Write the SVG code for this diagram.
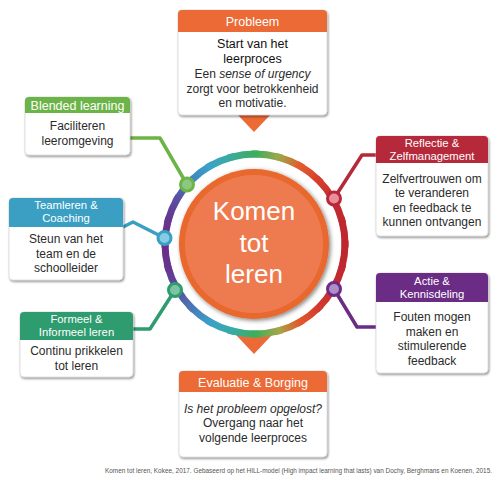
<svg xmlns="http://www.w3.org/2000/svg" width="500" height="500" viewBox="0 0 500 500">
<style>
.hdr{font-family:"Liberation Sans",Arial,sans-serif;font-size:12.5px;fill:#fff;text-anchor:middle}
.hdr2{font-family:"Liberation Sans",Arial,sans-serif;font-size:11.3px;fill:#fff;text-anchor:middle}
.txt{font-family:"Liberation Sans",Arial,sans-serif;font-size:12px;fill:#2b2b2b;text-anchor:middle}
.box{fill:#fff;stroke:#cfcfcf;stroke-width:.6;filter:url(#sh)}
.conn{fill:none;stroke-width:3.5;stroke-linejoin:round}
.seg{fill:none;stroke-width:7;stroke-linecap:square}
.node{stroke-width:3}
.big{font-family:"Liberation Sans",Arial,sans-serif;font-size:26px;fill:#fff;text-anchor:middle}
</style>
<defs>
<filter id="sh" x="-10%" y="-10%" width="130%" height="130%"><feDropShadow dx="1" dy="1.5" stdDeviation="1.2" flood-color="#000" flood-opacity="0.45"/></filter>
<filter id="csh" x="-20%" y="-20%" width="140%" height="140%"><feDropShadow dx="1.5" dy="1.5" stdDeviation="2" flood-color="#000" flood-opacity="0.5"/></filter>
<linearGradient id="g0" gradientUnits="userSpaceOnUse" x1="255" y1="154" x2="278.29" y2="157.07"><stop offset="0" stop-color="#3dae5b"/><stop offset="1" stop-color="#9aa84a"/></linearGradient>
<linearGradient id="g1" gradientUnits="userSpaceOnUse" x1="278.29" y1="157.07" x2="300" y2="166.06"><stop offset="0" stop-color="#9aa84a"/><stop offset="1" stop-color="#e25c2c"/></linearGradient>
<linearGradient id="g2" gradientUnits="userSpaceOnUse" x1="300" y1="166.06" x2="318.64" y2="180.36"><stop offset="0" stop-color="#e25c2c"/><stop offset="1" stop-color="#d63e2e"/></linearGradient>
<linearGradient id="g3" gradientUnits="userSpaceOnUse" x1="318.64" y1="180.36" x2="332.94" y2="199"><stop offset="0" stop-color="#d63e2e"/><stop offset="1" stop-color="#c42c30"/></linearGradient>
<linearGradient id="g4" gradientUnits="userSpaceOnUse" x1="332.94" y1="199" x2="341.93" y2="220.71"><stop offset="0" stop-color="#c42c30"/><stop offset="1" stop-color="#c0282f"/></linearGradient>
<linearGradient id="g5" gradientUnits="userSpaceOnUse" x1="341.93" y1="220.71" x2="345" y2="244"><stop offset="0" stop-color="#c0282f"/><stop offset="1" stop-color="#bf272f"/></linearGradient>
<linearGradient id="g6" gradientUnits="userSpaceOnUse" x1="345" y1="244" x2="341.93" y2="267.29"><stop offset="0" stop-color="#bf272f"/><stop offset="1" stop-color="#c0282f"/></linearGradient>
<linearGradient id="g7" gradientUnits="userSpaceOnUse" x1="341.93" y1="267.29" x2="332.94" y2="289"><stop offset="0" stop-color="#c0282f"/><stop offset="1" stop-color="#c32b2f"/></linearGradient>
<linearGradient id="g8" gradientUnits="userSpaceOnUse" x1="332.94" y1="289" x2="318.64" y2="307.64"><stop offset="0" stop-color="#c32b2f"/><stop offset="1" stop-color="#d23a2d"/></linearGradient>
<linearGradient id="g9" gradientUnits="userSpaceOnUse" x1="318.64" y1="307.64" x2="300" y2="321.94"><stop offset="0" stop-color="#d23a2d"/><stop offset="1" stop-color="#e2562b"/></linearGradient>
<linearGradient id="g10" gradientUnits="userSpaceOnUse" x1="300" y1="321.94" x2="278.29" y2="330.93"><stop offset="0" stop-color="#e2562b"/><stop offset="1" stop-color="#a5a548"/></linearGradient>
<linearGradient id="g11" gradientUnits="userSpaceOnUse" x1="278.29" y1="330.93" x2="255" y2="334"><stop offset="0" stop-color="#a5a548"/><stop offset="1" stop-color="#3dae5b"/></linearGradient>
<linearGradient id="g12" gradientUnits="userSpaceOnUse" x1="255" y1="334" x2="231.71" y2="330.93"><stop offset="0" stop-color="#3dae5b"/><stop offset="1" stop-color="#38aba6"/></linearGradient>
<linearGradient id="g13" gradientUnits="userSpaceOnUse" x1="231.71" y1="330.93" x2="210" y2="321.94"><stop offset="0" stop-color="#38aba6"/><stop offset="1" stop-color="#3ba0c9"/></linearGradient>
<linearGradient id="g14" gradientUnits="userSpaceOnUse" x1="210" y1="321.94" x2="191.36" y2="307.64"><stop offset="0" stop-color="#3ba0c9"/><stop offset="1" stop-color="#4a78b7"/></linearGradient>
<linearGradient id="g15" gradientUnits="userSpaceOnUse" x1="191.36" y1="307.64" x2="177.06" y2="289"><stop offset="0" stop-color="#4a78b7"/><stop offset="1" stop-color="#5a4c9f"/></linearGradient>
<linearGradient id="g16" gradientUnits="userSpaceOnUse" x1="177.06" y1="289" x2="168.07" y2="267.29"><stop offset="0" stop-color="#5a4c9f"/><stop offset="1" stop-color="#66358e"/></linearGradient>
<linearGradient id="g17" gradientUnits="userSpaceOnUse" x1="168.07" y1="267.29" x2="165" y2="244"><stop offset="0" stop-color="#66358e"/><stop offset="1" stop-color="#6a2d8a"/></linearGradient>
<linearGradient id="g18" gradientUnits="userSpaceOnUse" x1="165" y1="244" x2="168.07" y2="220.71"><stop offset="0" stop-color="#6a2d8a"/><stop offset="1" stop-color="#66358e"/></linearGradient>
<linearGradient id="g19" gradientUnits="userSpaceOnUse" x1="168.07" y1="220.71" x2="177.06" y2="199"><stop offset="0" stop-color="#66358e"/><stop offset="1" stop-color="#5a4ea0"/></linearGradient>
<linearGradient id="g20" gradientUnits="userSpaceOnUse" x1="177.06" y1="199" x2="191.36" y2="180.36"><stop offset="0" stop-color="#5a4ea0"/><stop offset="1" stop-color="#4184c0"/></linearGradient>
<linearGradient id="g21" gradientUnits="userSpaceOnUse" x1="191.36" y1="180.36" x2="210" y2="166.06"><stop offset="0" stop-color="#4184c0"/><stop offset="1" stop-color="#3aa3c7"/></linearGradient>
<linearGradient id="g22" gradientUnits="userSpaceOnUse" x1="210" y1="166.06" x2="231.71" y2="157.07"><stop offset="0" stop-color="#3aa3c7"/><stop offset="1" stop-color="#3aab9b"/></linearGradient>
<linearGradient id="g23" gradientUnits="userSpaceOnUse" x1="231.71" y1="157.07" x2="255" y2="154"><stop offset="0" stop-color="#3aab9b"/><stop offset="1" stop-color="#3dae5b"/></linearGradient>
</defs>

<!-- pointers -->
<g id="pointers" fill="#ec6a35">
<polygon points="236,113 272,113 254,132"/>
<polygon points="234.2,333 273.8,333 254,354"/>
</g>

<!-- connectors -->
<g id="connectors">
<path class="conn" stroke="#6cb447" d="M130,138 H160 L187,184.5"/>
<path class="conn" stroke="#3a9fc3" d="M123,227 L133,222 L164.5,238"/>
<path class="conn" stroke="#2f9c6f" d="M133,329 H150 L175,290"/>
<path class="conn" stroke="#b5293b" d="M376,155 H362 L334,198.5"/>
<path class="conn" stroke="#6b2c85" d="M334,289 L357,327 H376"/>
</g>

<!-- ring -->
<g id="ring">
<path class="seg" stroke="url(#g0)" d="M255,154 A90,90 0 0 1 278.29,157.07"/>
<path class="seg" stroke="url(#g1)" d="M278.29,157.07 A90,90 0 0 1 300,166.06"/>
<path class="seg" stroke="url(#g2)" d="M300,166.06 A90,90 0 0 1 318.64,180.36"/>
<path class="seg" stroke="url(#g3)" d="M318.64,180.36 A90,90 0 0 1 332.94,199"/>
<path class="seg" stroke="url(#g4)" d="M332.94,199 A90,90 0 0 1 341.93,220.71"/>
<path class="seg" stroke="url(#g5)" d="M341.93,220.71 A90,90 0 0 1 345,244"/>
<path class="seg" stroke="url(#g6)" d="M345,244 A90,90 0 0 1 341.93,267.29"/>
<path class="seg" stroke="url(#g7)" d="M341.93,267.29 A90,90 0 0 1 332.94,289"/>
<path class="seg" stroke="url(#g8)" d="M332.94,289 A90,90 0 0 1 318.64,307.64"/>
<path class="seg" stroke="url(#g9)" d="M318.64,307.64 A90,90 0 0 1 300,321.94"/>
<path class="seg" stroke="url(#g10)" d="M300,321.94 A90,90 0 0 1 278.29,330.93"/>
<path class="seg" stroke="url(#g11)" d="M278.29,330.93 A90,90 0 0 1 255,334"/>
<path class="seg" stroke="url(#g12)" d="M255,334 A90,90 0 0 1 231.71,330.93"/>
<path class="seg" stroke="url(#g13)" d="M231.71,330.93 A90,90 0 0 1 210,321.94"/>
<path class="seg" stroke="url(#g14)" d="M210,321.94 A90,90 0 0 1 191.36,307.64"/>
<path class="seg" stroke="url(#g15)" d="M191.36,307.64 A90,90 0 0 1 177.06,289"/>
<path class="seg" stroke="url(#g16)" d="M177.06,289 A90,90 0 0 1 168.07,267.29"/>
<path class="seg" stroke="url(#g17)" d="M168.07,267.29 A90,90 0 0 1 165,244"/>
<path class="seg" stroke="url(#g18)" d="M165,244 A90,90 0 0 1 168.07,220.71"/>
<path class="seg" stroke="url(#g19)" d="M168.07,220.71 A90,90 0 0 1 177.06,199"/>
<path class="seg" stroke="url(#g20)" d="M177.06,199 A90,90 0 0 1 191.36,180.36"/>
<path class="seg" stroke="url(#g21)" d="M191.36,180.36 A90,90 0 0 1 210,166.06"/>
<path class="seg" stroke="url(#g22)" d="M210,166.06 A90,90 0 0 1 231.71,157.07"/>
<path class="seg" stroke="url(#g23)" d="M231.71,157.07 A90,90 0 0 1 255,154"/>
</g>

<!-- centre -->
<g id="centre">
<circle cx="254" cy="244" r="75" fill="#e9682f" filter="url(#csh)"/>
<circle cx="254" cy="244" r="69" fill="#ee7b50"/>
<text class="big" x="254" y="220">Komen</text>
<text class="big" x="254" y="252">tot</text>
<text class="big" x="254" y="283">leren</text>
</g>

<!-- ring nodes -->
<g id="ring-nodes">
<circle class="node" cx="187" cy="184.5" r="6.5" fill="#8dc883" stroke="#6cb447"/>
<circle class="node" cx="164.5" cy="238" r="6.5" fill="#86cbe6" stroke="#3a9fc3"/>
<circle class="node" cx="175" cy="290" r="6.5" fill="#7fc4a2" stroke="#2f9c6f"/>
<circle class="node" cx="334" cy="198.5" r="6.5" fill="#ec8d9a" stroke="#b5293b"/>
<circle class="node" cx="334" cy="289" r="6.5" fill="#ad8fc6" stroke="#6b2c85"/>
</g>

<g id="probleem">
<rect class="box" x="178" y="10" width="149" height="105" rx="4"/>
<path fill="#ec6a35" d="M178,32 V14 Q178,10 182,10 H323 Q327,10 327,14 V32 Z"/>
<text class="hdr" x="252.5" y="25.5">Probleem</text>
<text class="txt" x="252.5" y="48.3" style="font-size:12.5px;fill:#111">Start van het</text>
<text class="txt" x="252.5" y="63.3" style="font-size:12.5px;fill:#111">leerproces</text>
<text class="txt" x="252.5" y="77.5">Een <tspan font-style="italic">sense of urgency</tspan></text>
<text class="txt" x="252.5" y="92.5">zorgt voor betrokkenheid</text>
<text class="txt" x="252.5" y="107.3">en motivatie.</text>
</g>

<g id="blended">
<rect class="box" x="25" y="97" width="105" height="58" rx="4"/>
<path fill="#6cb447" d="M25,113 V101 Q25,97 29,97 H126 Q130,97 130,101 V113 Z"/>
<text class="hdr" x="77.5" y="109.5">Blended learning</text>
<text class="txt" x="77.5" y="130">Faciliteren</text>
<text class="txt" x="77.5" y="145">leeromgeving</text>
</g>

<g id="teamleren">
<rect class="box" x="9" y="198" width="114" height="82" rx="4"/>
<path fill="#3a9fc3" d="M9,227 V202 Q9,198 13,198 H119 Q123,198 123,202 V227 Z"/>
<text class="hdr2" x="66" y="209.3">Teamleren &amp;</text>
<text class="hdr2" x="66" y="222.3">Coaching</text>
<text class="txt" x="66" y="242.7">Steun van het</text>
<text class="txt" x="66" y="257.5">team en de</text>
<text class="txt" x="66" y="272">schoolleider</text>
</g>

<g id="formeel">
<rect class="box" x="20" y="312" width="113" height="65" rx="4"/>
<path fill="#2f9c6f" d="M20,340 V316 Q20,312 24,312 H129 Q133,312 133,316 V340 Z"/>
<text class="hdr2" x="76.5" y="323.3">Formeel &amp;</text>
<text class="hdr2" x="76.5" y="336.3">Informeel leren</text>
<text class="txt" x="76.5" y="355.3">Continu prikkelen</text>
<text class="txt" x="76.5" y="370">tot leren</text>
</g>

<g id="reflectie">
<rect class="box" x="376" y="136" width="112" height="100" rx="4"/>
<path fill="#b5293b" d="M376,163 V140 Q376,136 380,136 H484 Q488,136 488,140 V163 Z"/>
<text class="hdr2" x="432" y="147.4">Reflectie &amp;</text>
<text class="hdr2" x="432" y="160.4">Zelfmanagement</text>
<text class="txt" x="432" y="182.7">Zelfvertrouwen om</text>
<text class="txt" x="432" y="197">te veranderen</text>
<text class="txt" x="432" y="211.5">en feedback te</text>
<text class="txt" x="432" y="225.5">kunnen ontvangen</text>
</g>

<g id="actie">
<rect class="box" x="376" y="273" width="112" height="100" rx="4"/>
<path fill="#6b2c85" d="M376,302 V277 Q376,273 380,273 H484 Q488,273 488,277 V302 Z"/>
<text class="hdr2" x="432" y="284.8">Actie &amp;</text>
<text class="hdr2" x="432" y="297.8">Kennisdeling</text>
<text class="txt" x="432" y="321">Fouten mogen</text>
<text class="txt" x="432" y="335.7">maken en</text>
<text class="txt" x="432" y="350.3">stimulerende</text>
<text class="txt" x="432" y="365">feedback</text>
</g>

<g id="evaluatie">
<rect class="box" x="179" y="371" width="148" height="86" rx="4"/>
<path fill="#ec6a35" d="M179,392 V375 Q179,371 183,371 H323 Q327,371 327,375 V392 Z"/>
<text class="hdr" x="253" y="386.5">Evaluatie &amp; Borging</text>
<text class="txt" x="253" y="412.7" font-style="italic">Is het probleem opgelost?</text>
<text class="txt" x="253" y="427.3">Overgang naar het</text>
<text class="txt" x="253" y="441.7">volgende leerproces</text>
</g>

<text x="105" y="473" font-family="'Liberation Sans',Arial,sans-serif" font-size="6.3" fill="#555" textLength="387" lengthAdjust="spacingAndGlyphs">Komen tot leren, Kokee, 2017. Gebaseerd op het HILL-model (High impact learning that lasts) van Dochy, Berghmans en Koenen, 2015.</text>
</svg>
